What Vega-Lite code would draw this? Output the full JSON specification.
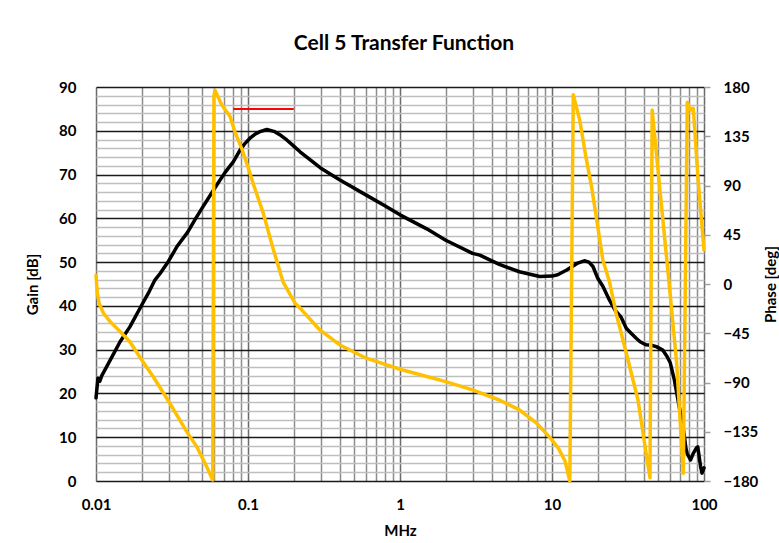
{
  "$schema": "https://vega.github.io/schema/vega-lite/v6.json",
  "width": 608,
  "height": 394,
  "autosize": {"type": "none"},
  "padding": {"left": 96, "top": 87, "right": 75, "bottom": 62},
  "background": "white",
  "title": {"text": "Cell 5 Transfer Function", "font": "Lato", "fontSize": 21, "fontWeight": "bold", "color": "#000000", "offset": 26, "dx": 4},
  "config": {"view": {"stroke": null}, "font": "Lato"},
  "datasets": {
    "gain": [
      {"f": 0.01, "db": 19}, {"f": 0.0103, "db": 23.5}, {"f": 0.0106, "db": 22.8}, {"f": 0.0109, "db": 24},
      {"f": 0.0124, "db": 27.6}, {"f": 0.0144, "db": 31.8}, {"f": 0.0167, "db": 35.2}, {"f": 0.02, "db": 40.2},
      {"f": 0.0221, "db": 42.9}, {"f": 0.0244, "db": 45.9}, {"f": 0.0264, "db": 47.4}, {"f": 0.03, "db": 50.2},
      {"f": 0.034, "db": 53.5}, {"f": 0.04, "db": 56.8}, {"f": 0.045, "db": 59.8}, {"f": 0.05, "db": 62.4},
      {"f": 0.0623, "db": 67.6}, {"f": 0.0707, "db": 70.5}, {"f": 0.08, "db": 72.9}, {"f": 0.0886, "db": 75.6},
      {"f": 0.095, "db": 77}, {"f": 0.103, "db": 78.3}, {"f": 0.112, "db": 79.3}, {"f": 0.12, "db": 79.8},
      {"f": 0.133, "db": 80.3}, {"f": 0.15, "db": 79.8}, {"f": 0.165, "db": 78.9}, {"f": 0.18, "db": 77.9},
      {"f": 0.2, "db": 76.5}, {"f": 0.22, "db": 75.2}, {"f": 0.3, "db": 71.5}, {"f": 0.4, "db": 68.8},
      {"f": 0.6, "db": 65.3}, {"f": 0.8, "db": 62.8}, {"f": 1, "db": 60.8}, {"f": 1.5, "db": 57.6},
      {"f": 2, "db": 55}, {"f": 3, "db": 52}, {"f": 3.35, "db": 51.6}, {"f": 4.5, "db": 49.5},
      {"f": 6.1, "db": 47.8}, {"f": 8.3, "db": 46.7}, {"f": 10, "db": 46.8}, {"f": 10.9, "db": 47.1},
      {"f": 12.5, "db": 48.2}, {"f": 14.6, "db": 49.7}, {"f": 16.3, "db": 50.3}, {"f": 17.5, "db": 50},
      {"f": 18.6, "db": 49}, {"f": 20, "db": 46.3}, {"f": 21.6, "db": 44.5}, {"f": 23.9, "db": 41.3},
      {"f": 26, "db": 39}, {"f": 28.4, "db": 37.5}, {"f": 30.8, "db": 34.9}, {"f": 33, "db": 33.8},
      {"f": 35.8, "db": 32.6}, {"f": 38, "db": 31.8}, {"f": 41.6, "db": 31.1}, {"f": 45, "db": 31},
      {"f": 48.6, "db": 30.7}, {"f": 53.5, "db": 29.9}, {"f": 57, "db": 28.5}, {"f": 60, "db": 27},
      {"f": 63.8, "db": 23.1}, {"f": 68.7, "db": 17}, {"f": 73.9, "db": 10.9}, {"f": 76, "db": 7.5},
      {"f": 77.5, "db": 6.3}, {"f": 81.5, "db": 4.8}, {"f": 85, "db": 6.3}, {"f": 89, "db": 7.5},
      {"f": 91, "db": 7.8}, {"f": 93, "db": 5.5}, {"f": 95, "db": 3.3}, {"f": 97, "db": 1.8}, {"f": 100, "db": 3}
    ],
    "phase": [
      {"f": 0.01, "deg": 8}, {"f": 0.0102, "deg": -8}, {"f": 0.0105, "deg": -18}, {"f": 0.0112, "deg": -26.7},
      {"f": 0.0125, "deg": -35}, {"f": 0.0144, "deg": -43.5}, {"f": 0.0167, "deg": -52.7}, {"f": 0.02, "deg": -69.4},
      {"f": 0.0238, "deg": -84.7}, {"f": 0.0306, "deg": -109}, {"f": 0.0395, "deg": -134.9}, {"f": 0.046, "deg": -148.6},
      {"f": 0.0535, "deg": -166.9}, {"f": 0.0586, "deg": -179}, {"f": 0.0597, "deg": 172}, {"f": 0.0606, "deg": 177},
      {"f": 0.0671, "deg": 163.7}, {"f": 0.0762, "deg": 153}, {"f": 0.0821, "deg": 139}, {"f": 0.0908, "deg": 124},
      {"f": 0.1005, "deg": 106}, {"f": 0.108, "deg": 92}, {"f": 0.126, "deg": 64.7}, {"f": 0.147, "deg": 31.2},
      {"f": 0.17, "deg": 2}, {"f": 0.204, "deg": -17.6}, {"f": 0.22, "deg": -22}, {"f": 0.297, "deg": -42},
      {"f": 0.402, "deg": -55.7}, {"f": 0.6, "deg": -67.8}, {"f": 1, "deg": -77.9}, {"f": 1.5, "deg": -84.5},
      {"f": 2, "deg": -89.2}, {"f": 3, "deg": -96.8}, {"f": 4.5, "deg": -106}, {"f": 6.1, "deg": -115},
      {"f": 7.9, "deg": -127}, {"f": 9.8, "deg": -141}, {"f": 11, "deg": -150}, {"f": 12.2, "deg": -162},
      {"f": 13.1, "deg": -180}, {"f": 13.8, "deg": 173}, {"f": 15.2, "deg": 150}, {"f": 16.7, "deg": 116.4},
      {"f": 18.2, "deg": 89}, {"f": 20, "deg": 52.5}, {"f": 21.6, "deg": 22}, {"f": 23.9, "deg": 2},
      {"f": 26.4, "deg": -26.7}, {"f": 30.8, "deg": -63}, {"f": 36.8, "deg": -106}, {"f": 40.6, "deg": -145},
      {"f": 44.1, "deg": -177}, {"f": 45.6, "deg": 159}, {"f": 51.3, "deg": 86}, {"f": 59.8, "deg": -8.4},
      {"f": 66.1, "deg": -72.4}, {"f": 73.1, "deg": -173}, {"f": 77.6, "deg": 166}, {"f": 81.6, "deg": 159},
      {"f": 85, "deg": 160.6}, {"f": 91.5, "deg": 95}, {"f": 100, "deg": 31}
    ],
    "marker": [{"f": 0.08, "f2": 0.2, "db": 85}]
  },
  "layer": [
    {
      "layer": [
        {
          "data": {"name": "gain"},
          "mark": {"type": "line", "color": "#000000", "strokeWidth": 3.5, "strokeJoin": "round", "strokeCap": "round"},
          "encoding": {
            "x": {
              "field": "f", "type": "quantitative",
              "scale": {"type": "log", "domain": [0.01, 100], "nice": false},
              "axis": {
                "title": "MHz",
                "values": [0.01,0.02,0.03,0.04,0.05,0.06,0.07,0.08,0.09,0.1,0.2,0.3,0.4,0.5,0.6,0.7,0.8,0.9,1,2,3,4,5,6,7,8,9,10,20,30,40,50,60,70,80,90,100],
                "tickCount": 500,
                "format": "~g",
                "labelExpr": "abs(log(datum.value)/LN10 - round(log(datum.value)/LN10)) < 0.001 ? datum.label : ''",
                "labelOverlap": false, "labelFlush": false,
                "grid": true,
                "gridColor": {"condition": {"test": "abs(log(datum.value)/LN10 - round(log(datum.value)/LN10)) < 0.001", "value": "#6a6a6a"}, "value": "#8c8c8c"},
                "gridWidth": 1.5,
                "domain": false, "ticks": false,
                "labelFont": "Lato", "labelFontSize": 15, "labelFontWeight": "bold", "labelColor": "#000000", "labelPadding": 16,
                "titleFont": "Lato", "titleFontSize": 15, "titleFontWeight": "bold", "titleColor": "#000000", "titlePadding": 11
              }
            },
            "y": {
              "field": "db", "type": "quantitative",
              "scale": {"domain": [0, 90], "nice": false},
              "axis": {
                "title": "Gain  [dB]",
                "values": [0,2,4,6,8,10,12,14,16,18,20,22,24,26,28,30,32,34,36,38,40,42,44,46,48,50,52,54,56,58,60,62,64,66,68,70,72,74,76,78,80,82,84,86,88,90],
                "tickCount": 500,
                "format": "d",
                "labelExpr": "datum.value % 10 === 0 ? datum.label : ''",
                "labelOverlap": false, "labelFlush": false,
                "grid": true,
                "gridColor": {"condition": {"test": "datum.value % 10 === 0", "value": "#1a1a1a"}, "value": "#bfbfbf"},
                "gridWidth": 1.5,
                "domain": false, "ticks": false,
                "labelFont": "Lato", "labelFontSize": 15, "labelFontWeight": "bold", "labelColor": "#000000", "labelPadding": 20,
                "titleFont": "Lato", "titleFontSize": 15, "titleFontWeight": "bold", "titleColor": "#000000", "titlePadding": 18
              }
            }
          }
        },
        {
          "data": {"name": "marker"},
          "mark": {"type": "rule", "color": "#ff0000", "strokeWidth": 2},
          "encoding": {
            "x": {"field": "f", "type": "quantitative"},
            "x2": {"field": "f2"},
            "y": {"field": "db", "type": "quantitative"}
          }
        }
      ]
    },
    {
      "data": {"name": "phase"},
      "mark": {"type": "line", "color": "#FFC000", "strokeWidth": 3.5, "strokeJoin": "round", "strokeCap": "round"},
      "encoding": {
        "x": {"field": "f", "type": "quantitative"},
        "y": {
          "field": "deg", "type": "quantitative",
          "scale": {"domain": [-180, 180], "nice": false},
          "axis": {
            "orient": "right",
            "title": "Phase [deg]",
            "titleAngle": 270,
            "values": [-180,-135,-90,-45,0,45,90,135,180],
            "tickCount": 500,
            "format": "d",
            "grid": false, "domain": false,
            "ticks": true, "tickSize": 6, "tickColor": "#a0a0a0", "tickWidth": 1.5,
            "labelFont": "Lato", "labelFontSize": 15, "labelFontWeight": "bold", "labelColor": "#000000", "labelPadding": 13,
            "labelOverlap": false, "labelFlush": false,
            "titleFont": "Lato", "titleFontSize": 15, "titleFontWeight": "bold", "titleColor": "#000000", "titlePadding": 21
          }
        }
      }
    }
  ],
  "resolve": {"scale": {"y": "independent"}}
}
